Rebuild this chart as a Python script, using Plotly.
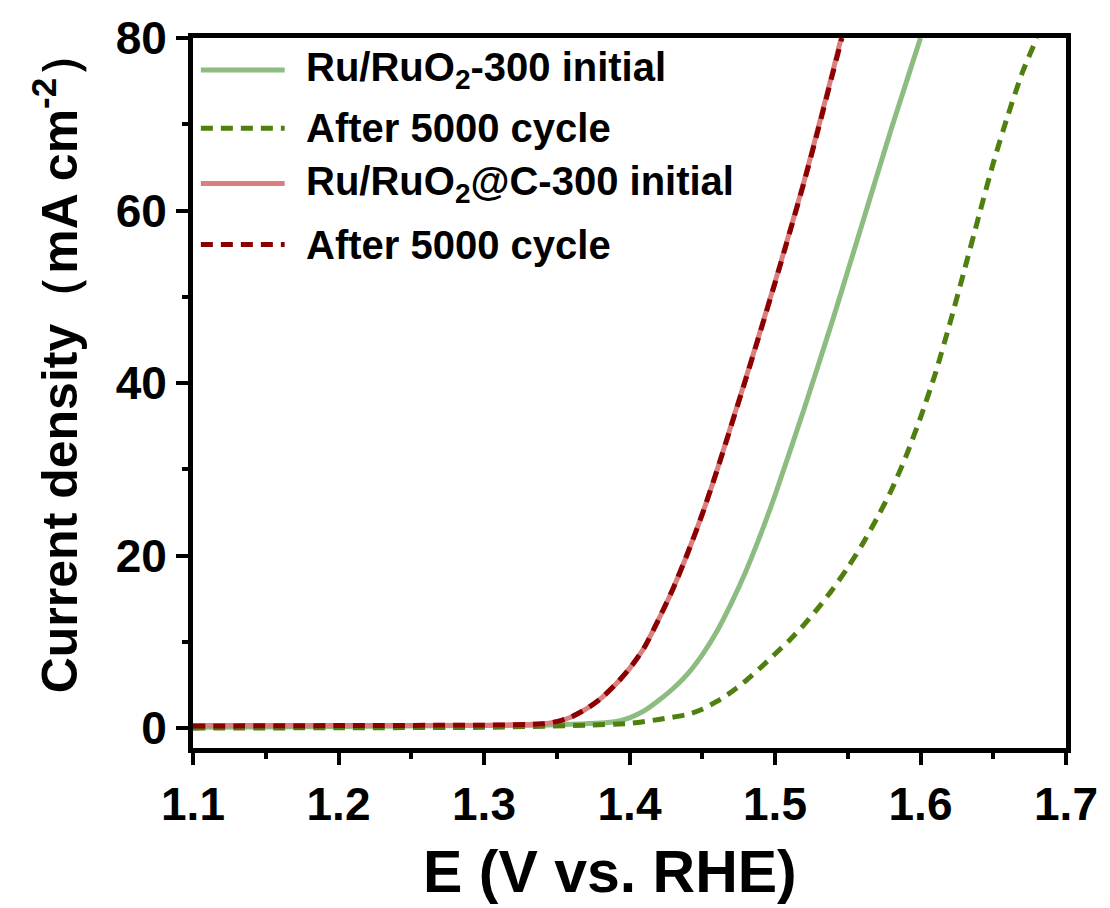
import plotly.graph_objects as go

# Polarisation curves (E vs. RHE in V, current density in mA cm^-2)
E_ru_init = [1.10, 1.20, 1.30, 1.34, 1.36, 1.38, 1.39, 1.40, 1.41, 1.42, 1.43, 1.44, 1.45,
             1.46, 1.47, 1.48, 1.49, 1.50, 1.52, 1.54, 1.56, 1.58, 1.60]
j_ru_init = [0.1, 0.2, 0.3, 0.35, 0.45, 0.6, 0.75, 1.2, 2.0, 3.2, 4.6, 6.3, 8.5,
             11.2, 14.5, 18.2, 22.4, 27.0, 37.0, 47.5, 58.5, 69.5, 80.0]

E_ru_after = [1.10, 1.20, 1.30, 1.37, 1.40, 1.42, 1.44, 1.45, 1.46, 1.47, 1.48, 1.49, 1.50,
              1.51, 1.52, 1.53, 1.54, 1.55, 1.56, 1.57, 1.58, 1.59, 1.60, 1.61, 1.62,
              1.63, 1.64, 1.65, 1.66, 1.67, 1.68]
j_ru_after = [0.0, 0.05, 0.1, 0.35, 0.55, 1.0, 1.6, 2.2, 3.1, 4.2, 5.5, 7.0, 8.6,
              10.2, 12.0, 14.0, 16.2, 18.6, 21.3, 24.3, 27.6, 31.5, 36.0, 41.0, 46.8,
              53.0, 59.3, 65.5, 71.0, 76.0, 80.0]

E_ruc_init = [1.10, 1.20, 1.30, 1.33, 1.34, 1.35, 1.36, 1.37, 1.38, 1.39, 1.40, 1.41,
              1.42, 1.43, 1.44, 1.45, 1.46, 1.47, 1.48, 1.49, 1.50, 1.51, 1.52, 1.53,
              1.54, 1.5455]
j_ruc_init = [0.3, 0.3, 0.35, 0.42, 0.5, 0.75, 1.3, 2.2, 3.4, 5.0, 6.9, 9.3,
              12.6, 16.2, 20.3, 24.8, 29.8, 35.2, 40.6, 46.1, 51.7, 57.5, 63.4, 69.8,
              76.3, 80.0]

E_ruc_after = [1.10, 1.20, 1.30, 1.33, 1.34, 1.35, 1.36, 1.37, 1.38, 1.39, 1.40, 1.41,
               1.42, 1.43, 1.44, 1.45, 1.46, 1.47, 1.48, 1.49, 1.50, 1.51, 1.52, 1.53,
               1.54, 1.546]
j_ruc_after = [0.25, 0.3, 0.35, 0.42, 0.5, 0.75, 1.3, 2.2, 3.4, 5.0, 6.9, 9.3,
               12.6, 16.2, 20.3, 24.8, 29.8, 35.1, 40.5, 46.0, 51.6, 57.4, 63.3, 69.6,
               76.1, 80.0]

labels = ["Ru/RuO<sub>2</sub>-300 initial", "After 5000 cycle",
          "Ru/RuO<sub>2</sub>@C-300 initial", "After 5000 cycle"]
colors = ["#8CBC80", "#4F7F0F", "#DA7F7F", "#8B0000"]
dashes = ["solid", "12px,8px", "solid", "12px,8px"]

x_title = "<b>E (V vs. RHE)</b>"
y_title = "<b>Current density（mA cm<sup>-2</sup>）</b>"

FONT = "Liberation Sans, Arial, sans-serif"
LW = 5

fig = go.Figure()
series = [(E_ru_init, j_ru_init), (E_ru_after, j_ru_after),
          (E_ruc_init, j_ruc_init), (E_ruc_after, j_ruc_after)]
for (x, y), c, d in zip(series, colors, dashes):
    fig.add_trace(go.Scatter(x=x, y=y, mode="lines",
                             line=dict(color=c, width=LW, dash=d, shape="spline", smoothing=0.6),
                             showlegend=False))

# Legend drawn inside the top-left corner of the axes
row_y = [0.955, 0.873, 0.795, 0.709]
for lab, c, d, yy in zip(labels, colors, dashes, row_y):
    fig.add_shape(type="line", xref="paper", yref="paper", x0=0.009, x1=0.105, y0=yy, y1=yy,
                  line=dict(color=c, width=LW, dash=d))
    fig.add_annotation(xref="paper", yref="paper", x=0.127, y=yy, xanchor="left", yanchor="middle",
                       text=lab, showarrow=False, font=dict(family=FONT, size=40, color="black"))

# Axis titles
fig.add_annotation(xref="paper", yref="paper", x=0.478, y=-0.175, xanchor="center", yanchor="middle",
                   text=x_title, showarrow=False, font=dict(family=FONT, size=59, color="black"))
fig.add_annotation(xref="paper", yref="paper", x=-0.157, y=0.546, xanchor="center", yanchor="middle",
                   text=y_title, textangle=-90, showarrow=False,
                   font=dict(family=FONT, size=50, color="black"))

axis_common = dict(showline=True, linecolor="black", linewidth=5, mirror=True,
                   ticks="outside", tickwidth=4, ticklen=12, tickcolor="black",
                   showgrid=False, zeroline=False,
                   tickfont=dict(family=FONT, size=46, color="black"))

fig.update_xaxes(range=[1.1, 1.7], dtick=0.1, tick0=1.1, tickformat=".1f",
                 minor=dict(dtick=0.05, ticks="outside", ticklen=6, tickwidth=4, tickcolor="black"),
                 **axis_common)
fig.update_yaxes(range=[-2.3, 80], dtick=20, tick0=0,
                 minor=dict(dtick=10, ticks="outside", ticklen=6, tickwidth=4, tickcolor="black"),
                 **axis_common)

fig.update_layout(width=1110, height=908, margin=dict(l=193, r=40, t=38, b=160),
                  paper_bgcolor="white", plot_bgcolor="white",
                  font=dict(family=FONT, color="black", weight="bold"))
fig.write_html("out.html")
